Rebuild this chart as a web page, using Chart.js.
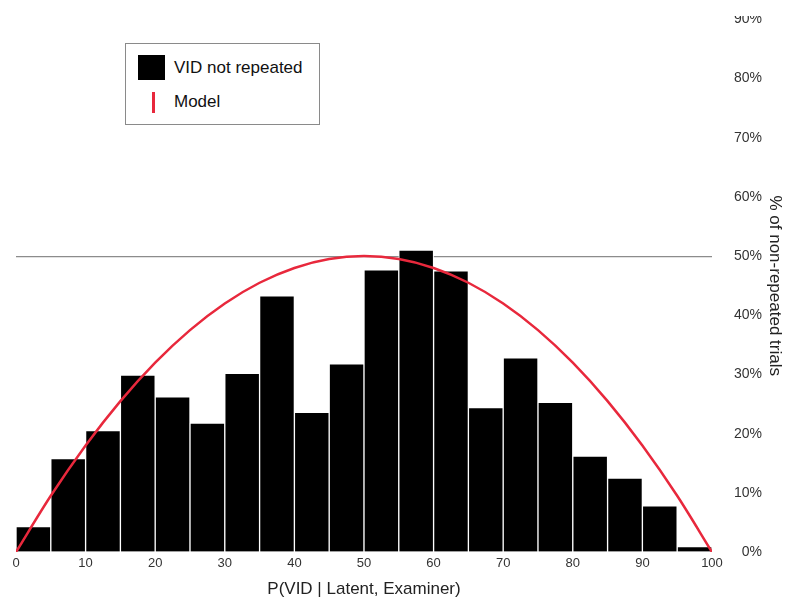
<!DOCTYPE html>
<html>
<head>
<meta charset="utf-8">
<script src="https://cdn.jsdelivr.net/npm/chart.js@4/dist/chart.umd.min.js"></script>
<style>
    body { margin: 0; background: #fff; font-family: "Liberation Sans", Arial, sans-serif; }
    /* the reference is cropped through the top tick label */
    #wrap { position: absolute; left: 0; top: 16px; width: 785px; height: 584px; overflow: hidden; }
    #box { position: absolute; left: 0; top: -16px; width: 785px; height: 600px; }
    #legend {
        position: absolute; left: 125px; top: 43px; width: 193px; height: 80px;
        border: 1.5px solid #8a8a8a; background: #fff; font-size: 17px; color: #111;
    }
    .sw { position: absolute; left: 12px; top: 11px; width: 27px; height: 25px; background: #000; }
    .ln { position: absolute; left: 26px; top: 48px; width: 2.5px; height: 21px; background: #e8283c; }
    .lb { position: absolute; left: 48px; }
</style>
</head>
<body>
<div id="wrap">
    <div id="box">
        <canvas id="chart"></canvas>
    </div>
</div>
<div id="legend">
    <div class="sw"></div><div class="lb" style="top:14px">VID not repeated</div>
    <div class="ln"></div><div class="lb" style="top:48px">Model</div>
</div>
<script>
// Histogram bins (centres of 5-wide bins) and % of non-repeated trials
const binCenters = [2.5, 7.5, 12.5, 17.5, 22.5, 27.5, 32.5, 37.5, 42.5, 47.5,
                    52.5, 57.5, 62.5, 67.5, 72.5, 77.5, 82.5, 87.5, 92.5, 97.5];
const binValues = [4.3, 15.8, 20.5, 29.9, 26.2, 21.8, 30.2, 43.3, 23.6, 31.8,
                   47.7, 51.0, 47.5, 24.4, 32.8, 25.3, 16.2, 12.5, 7.8, 0.9];

// Model curve
const modelX = [0, 5, 10, 15, 20, 25, 30, 35, 40, 45, 50, 55, 60, 65, 70, 75, 80, 85, 90, 95, 100];
const modelY = [0, 9.5, 18, 25.5, 32, 37.5, 42, 45.5, 48, 49.5, 50, 49.5, 48, 45.5, 42, 37.5, 32, 25.5, 18, 9.5, 0];

const yTicks = [0, 10, 20, 30, 40, 50, 60, 70, 80, 90];
const refLine = 50;
const yTitle = '% of non-repeated trials';

// y axis title drawn by hand so the tick labels can stay right-aligned
const yTitlePlugin = {
    id: 'yTitle',
    afterDraw(chart) {
        const c = chart.ctx;
        const area = chart.chartArea;
        c.save();
        c.translate(775, (area.top + area.bottom) / 2);
        c.rotate(Math.PI / 2);
        c.font = '17px "Liberation Sans"';
        c.fillStyle = '#222';
        c.textAlign = 'center';
        c.textBaseline = 'middle';
        c.fillText(yTitle, 0, 0);
        c.restore();
    }
};

document.addEventListener('DOMContentLoaded', function() {
    const ctx = document.getElementById('chart').getContext('2d');
    new Chart(ctx, {
        type: 'bar',
        data: {
            datasets: [{
                type: 'line',
                label: 'Model',
                data: modelX.map((x, i) => ({ x: x, y: modelY[i] })),
                borderColor: '#e8283c',
                borderWidth: 2.5,
                pointRadius: 0,
                tension: 0.4,
                cubicInterpolationMode: 'monotone',
                fill: false
            }, {
                label: 'VID not repeated',
                data: binCenters.map((x, i) => ({ x: x, y: binValues[i] })),
                backgroundColor: '#000',
                borderColor: '#fff',
                borderWidth: 1,
                barPercentage: 1,
                categoryPercentage: 1
            }]
        },
        options: {
            responsive: true,
            maintainAspectRatio: false,
            animation: false,
            layout: { autoPadding: false, padding: { left: 16, top: 12, right: 23, bottom: 0 } },
            plugins: {
                legend: { display: false },
                tooltip: { enabled: false }
            },
            scales: {
                x: {
                    type: 'linear',
                    min: 0,
                    max: 100,
                    offset: false,
                    grid: { display: false, drawTicks: false },
                    border: { display: false },
                    ticks: {
                        stepSize: 10,
                        padding: 4,
                        color: '#333',
                        font: { family: 'Liberation Sans', size: 13 }
                    },
                    title: {
                        display: true,
                        text: 'P(VID | Latent, Examiner)',
                        color: '#222',
                        font: { family: 'Liberation Sans', size: 17 },
                        padding: { top: 4, bottom: 0 }
                    }
                },
                y: {
                    position: 'right',
                    min: 0,
                    max: 90,
                    afterBuildTicks: function(scale) {
                        scale.ticks = yTicks.map(v => ({ value: v }));
                    },
                    grid: {
                        drawTicks: false,
                        color: c => (c.tick && c.tick.value === refLine) ? '#8c8c8c' : 'rgba(0,0,0,0)',
                        lineWidth: 1.2
                    },
                    border: { display: false },
                    ticks: {
                        padding: 11,
                        crossAlign: 'far',
                        color: '#333',
                        font: { family: 'Liberation Sans', size: 14 },
                        callback: v => v + '%'
                    }
                }
            }
        },
        plugins: [yTitlePlugin]
    });
});
</script>
</body>
</html>
